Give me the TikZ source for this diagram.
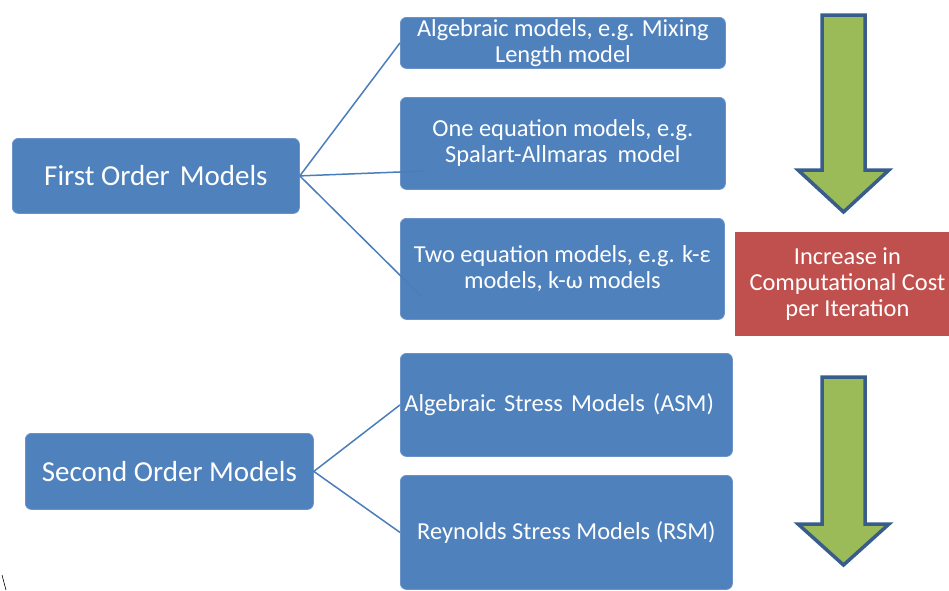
\documentclass[tikz,border=0pt]{standalone}
\usepackage{fontspec}
\setmainfont{Carlito}
\definecolor{boxblue}{HTML}{4F81BD}
\definecolor{boxedge}{HTML}{6A94C8}
\definecolor{redbox}{HTML}{C0504D}
\definecolor{greenarr}{HTML}{9BBB59}
\definecolor{arredge}{HTML}{385D8A}
\definecolor{conn}{HTML}{4A7EBB}
\begin{document}
\begin{tikzpicture}[x=1pt,y=-1pt,
  bbox/.style={draw=boxedge, line width=0.8pt, fill=boxblue, rounded corners=6pt,
    text=white, font=\fontsize{24.4}{26}\selectfont, align=center, inner sep=0pt, anchor=north west},
  bigbox/.style={bbox, font=\fontsize{29}{30}\selectfont},
  costbox/.style={bbox, fill=redbox, draw=redbox, rounded corners=0pt},
  connector/.style={draw=conn, line width=1.5pt},
  downarrow/.style={fill=greenarr, draw=arredge, line width=3.5pt, miter limit=10}
]
\useasboundingbox (0,0) rectangle (949,590);
\clip (0,0) rectangle (949,590);

% boxes
\node[bigbox, minimum width=287pt, minimum height=75pt] (fom) at (12,138) {First Order\hspace{0.12em} Models};
\node[bigbox, minimum width=288pt, minimum height=76pt] (som) at (25,433) {Second Order Models};
\node[bbox, minimum width=325pt, minimum height=51pt] (alg) at (400,17) {Algebraic models, e.g. Mixing\\Length model};
\node[bbox, minimum width=325pt, minimum height=92pt] (oneq) at (400,97) {One equation models, e.g.\\Spalart-Allmaras\hspace{0.2em} model};
\node[bbox, minimum width=324pt, minimum height=101pt] (twoeq) at (400,218) {Two equation models, e.g. k-ε\\models, k-ω models};
\node[bbox, minimum width=332pt, minimum height=103pt, text width=324pt, align=left] (asm) at (400,353) {Algebraic Stress Models (ASM)};
\node[bbox, minimum width=332pt, minimum height=114pt] (rsm) at (400,475) {Reynolds Stress Models (RSM)};
\node[costbox, minimum width=224pt, minimum height=103pt] (cost) at (735,232) {Increase in\\Computational Cost\\per Iteration};

% connector ends
\coordinate (e1) at (425,171);
\coordinate (e2) at (421,296);

\draw[connector] (fom.east) -- (alg.west);
\draw[connector] (fom.east) -- (e1);
\draw[connector] (fom.east) -- (e2);
\draw[connector] (asm.west) -- (som.east) -- (rsm.west);

% green arrows
\draw[downarrow] (822,15) -- (865,15) -- (865,170) -- (889,170) -- (843.5,212) -- (798,170) -- (822,170) -- cycle;
\draw[downarrow] (822,377) -- (865,377) -- (865,524) -- (889,524) -- (843.5,565) -- (798,524) -- (822,524) -- cycle;

% stray mark
\draw[black, line width=0.6pt] (2,575) -- (6,590);
\end{tikzpicture}
\end{document}
